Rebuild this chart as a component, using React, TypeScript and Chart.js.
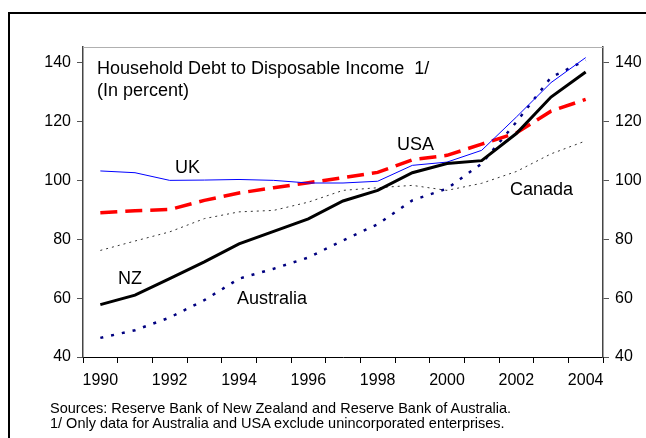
import React, { useEffect, useRef } from 'react';
import { Chart, registerables } from 'chart.js';

Chart.register(...registerables);

const years = ['1990', '1991', '1992', '1993', '1994', '1995', '1996', '1997', '1998', '1999', '2000', '2001', '2002', '2003', '2004'];
const uk = [103.2, 102.6, 100.0, 100.1, 100.3, 100.0, 99.1, 99.1, 99.7, 105.1, 106.2, 110.2, 121.5, 133.2, 141.7];
const usa = [89.0, 89.7, 90.1, 93.2, 95.7, 97.5, 99.2, 100.9, 102.7, 107.0, 108.5, 112.3, 116.1, 123.5, 127.5];
const nz = [57.8, 61.0, 66.6, 72.3, 78.4, 82.7, 86.9, 93.0, 96.6, 102.6, 105.7, 106.7, 115.9, 128.3, 136.8];
const australia = [46.5, 49.1, 53.4, 59.3, 66.6, 70.0, 73.8, 79.6, 85.1, 93.2, 97.2, 105.7, 119.8, 135.0, 140.8];
const canada = [76.2, 79.4, 82.5, 87.0, 89.3, 89.8, 92.6, 96.6, 97.5, 98.3, 96.6, 99.0, 103.0, 109.0, 113.4];
const yTicks = [40, 60, 80, 100, 120, 140];

const FONT = '"Liberation Sans", Arial, sans-serif';

const topBorder = {
  id: 'topBorder',
  afterDraw(chart: any) {
    const { ctx, chartArea } = chart;
    ctx.save();
    ctx.strokeStyle = '#b0b0b0';
    ctx.lineWidth = 1;
    ctx.beginPath();
    ctx.moveTo(chartArea.left, chartArea.top + 0.5);
    ctx.lineTo(chartArea.right, chartArea.top + 0.5);
    ctx.stroke();
    ctx.restore();
  },
};

function yAxis(position: 'left' | 'right', width: number) {
  return {
    type: 'linear' as const,
    position,
    min: 40,
    max: 145.3,
    afterBuildTicks: (s: any) => {
      s.ticks = yTicks.map((v) => ({ value: v }));
    },
    afterFit: (s: any) => {
      s.width = width;
    },
    grid: { drawOnChartArea: false, drawTicks: true, tickLength: 6, color: '#555' },
    border: { color: '#444', width: 1.5 },
    ticks: { font: { family: FONT, size: 16 }, color: '#000', padding: 6 },
  };
}

export default function App() {
  const ref = useRef<HTMLCanvasElement>(null);

  useEffect(() => {
    if (!ref.current) return;
    const chart = new Chart(ref.current, {
      type: 'line',
      data: {
        labels: years,
        datasets: [
          { label: 'NZ', data: nz, borderColor: '#000000', borderWidth: 3, yAxisID: 'y' },
          { label: 'UK', data: uk, borderColor: '#0000ff', borderWidth: 1, yAxisID: 'y' },
          { label: 'USA', data: usa, borderColor: '#ff0000', borderWidth: 3.5, borderDash: [17, 8], yAxisID: 'y' },
          { label: 'Australia', data: australia, borderColor: '#000080', borderWidth: 2.5, borderDash: [3, 8], yAxisID: 'y' },
          { label: 'Canada', data: canada, borderColor: '#333333', borderWidth: 1, borderDash: [2, 4], yAxisID: 'y' },
        ].map((d) => ({ ...d, pointRadius: 0, tension: 0, fill: false })),
      },
      options: {
        animation: false,
        responsive: true,
        maintainAspectRatio: false,
        layout: { padding: { top: 47, left: 0, right: 0, bottom: 0 } },
        plugins: { legend: { display: false }, tooltip: { enabled: false }, title: { display: false } },
        scales: {
          x: {
            type: 'category',
            offset: true,
            grid: { offset: true, drawOnChartArea: false, drawTicks: true, tickLength: 6, color: '#000' },
            border: { color: '#000', width: 1 },
            ticks: {
              autoSkip: false,
              maxRotation: 0,
              padding: 8,
              color: '#000',
              font: { family: FONT, size: 16 },
              callback: (_v: any, i: number) => (i % 2 === 0 ? years[i] : ''),
            },
            afterFit: (s: any) => {
              s.height = 81;
            },
          },
          y: yAxis('left', 83),
          y2: yAxis('right', 43),
        },
      },
      plugins: [topBorder],
    });
    return () => chart.destroy();
  }, []);

  const label = (left: number, top: number, size = 18): React.CSSProperties => ({
    position: 'absolute',
    left,
    top,
    fontSize: size,
    lineHeight: 1,
    fontFamily: FONT,
    color: '#000',
    whiteSpace: 'nowrap',
  });

  return (
    <div style={{ position: 'fixed', left: 0, top: 0, width: 646, height: 438, background: '#fff', overflow: 'hidden' }}>
      <div
        style={{
          position: 'absolute',
          left: 8,
          top: 12,
          width: 646,
          height: 438,
          borderTop: '2px solid #000',
          borderLeft: '2px solid #000',
        }}
      />
      <div style={{ position: 'absolute', left: 0, top: 0, width: 646, height: 438 }}>
        <canvas ref={ref} />
      </div>
      <div style={{ position: 'absolute', left: 97, top: 57, fontSize: 18, lineHeight: '22px', fontFamily: FONT, whiteSpace: 'pre' }}>
        {'Household Debt to Disposable Income  1/\n(In percent)'}
      </div>
      <div style={label(175, 158)}>UK</div>
      <div style={label(397, 135)}>USA</div>
      <div style={label(510, 180)}>Canada</div>
      <div style={label(118, 269)}>NZ</div>
      <div style={label(237, 288.5)}>Australia</div>
      <div style={{ position: 'absolute', left: 50, top: 401, fontSize: 14.5, lineHeight: '15px', fontFamily: FONT, whiteSpace: 'pre' }}>
        {'Sources: Reserve Bank of New Zealand and Reserve Bank of Australia.\n1/ Only data for Australia and USA exclude unincorporated enterprises.'}
      </div>
    </div>
  );
}
